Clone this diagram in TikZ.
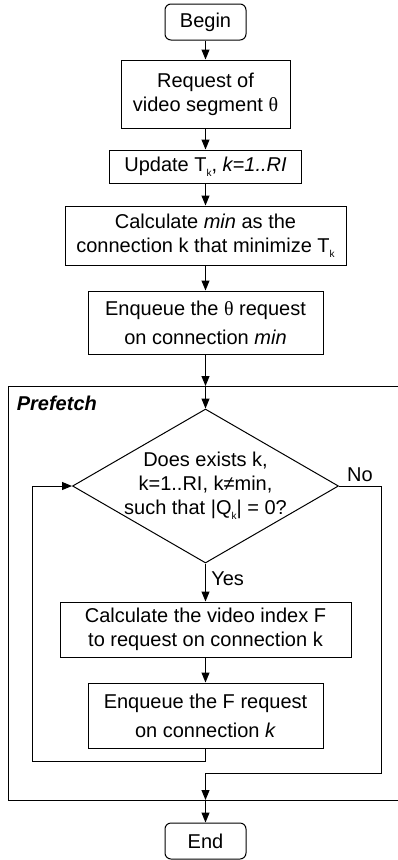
\documentclass[tikz,border=0pt]{standalone}
\usepackage{fontspec}
\setmainfont{Liberation Sans}
\newfontfamily\thetafont{Liberation Serif}
\usetikzlibrary{shapes.geometric,arrows.meta,positioning}
\newcommand{\thet}{{\thetafont θ}}
\newcommand{\idx}[1]{\raisebox{-.5ex}{\fontsize{10}{10}\selectfont #1}}

\tikzset{
  every node/.style={font=\fontsize{20}{24}\selectfont},
  procbox/.style={draw, rectangle, inner sep=0pt, align=center},
  termbox/.style={draw, rounded corners=6pt, minimum width=81pt, minimum height=36pt, inner sep=0pt},
  decision/.style={draw, diamond, inner sep=0pt, minimum width=266pt, minimum height=154pt},
  flow/.style={-{Triangle[length=10pt,width=8pt]}},
}

\begin{document}
\begin{tikzpicture}[x=1pt,y=-1pt,line width=1pt]
  \useasboundingbox (0,0) rectangle (398,860);
  % main chain
  \node[termbox] (Beg) at (205.5,22) {Begin};
  \node[procbox, minimum width=169pt, minimum height=68pt] (Req) at (205.5,94)
    {Request of\\video segment \thet};
  \node[procbox, minimum width=192pt, minimum height=33pt] (Upd) at (205.5,166.5)
    {Update T\idx{k}, \textit{k=1..RI}};
  \node[procbox, minimum width=281pt, minimum height=59pt] (Cal) at (205.5,235.5)
    {Calculate \textit{min} as the\\connection k that minimize T\idx{k}};
  \node[procbox, minimum width=235pt, minimum height=63pt] (Enq) at (205.5,322.5)
    {Enqueue the \thet{} request\\[5pt]on connection \textit{min}};
  % prefetch frame
  \draw (398,386) -| (8,800) -- (398,800);
  \coordinate (Pin) at (205.5,386);
  \coordinate (Pout) at (205.5,800);
  \node[anchor=west, font=\bfseries\itshape\fontsize{20}{20}\selectfont] (Pre) at (13,403) {Prefetch};
  \node[decision] (Dec) at (205.5,486) {};
  \node[align=center] (DecT) at (Dec) {Does exists k,\\k=1..RI, k≠min,\\such that |Q\idx{k}| = 0?};
  \node[procbox, minimum width=291pt, minimum height=55pt] (Idx) at (205.5,629.5)
    {Calculate the video index F\\to request on connection k};
  \node[procbox, minimum width=235pt, minimum height=65pt] (EnqF) at (205.5,715.5)
    {Enqueue the F request\\[5pt]on connection \textit{k}};
  \node[termbox] (End) at (205.5,841) {End};
  % connectors
  \draw[flow] (Beg) -- (Req);
  \draw[flow] (Req) -- (Upd);
  \draw[flow] (Upd) -- (Cal);
  \draw[flow] (Cal) -- (Enq);
  \draw[flow] (Enq) -- (Pin);
  \draw[flow] (Pin) -- (Dec);
  \draw[flow] (Dec) -- node[pos=0.4, right=2pt] {Yes} (Idx);
  \draw[flow] (Idx) -- (EnqF);
  \draw[flow] (EnqF.south) -- ++(0,13) -| ([xshift=-40pt]Dec.west) -- (Dec.west);
  \draw[flow] (Dec.east) -- node[above] {No} ++(42,0) -- ++(0,287) -| (Pout);
  \draw[flow] (Pout) -- (End);
\end{tikzpicture}
\end{document}
